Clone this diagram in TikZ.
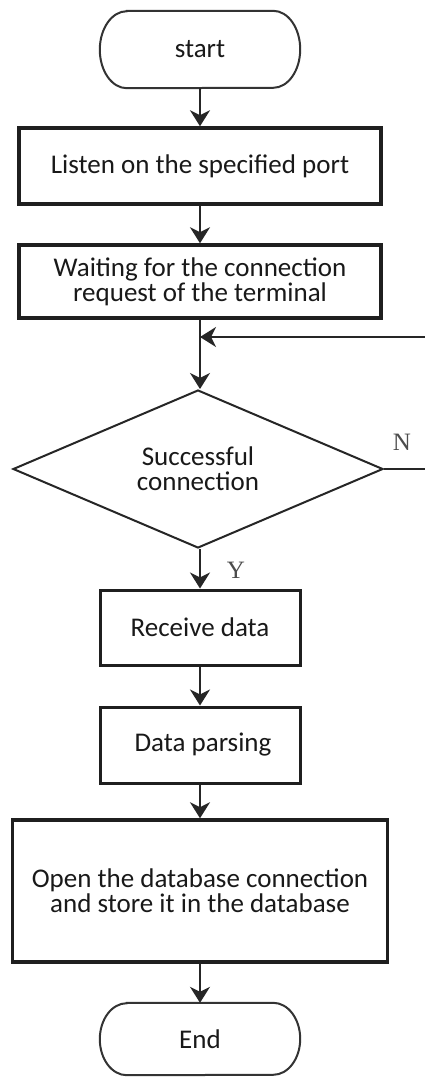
\documentclass[tikz,border=0pt]{standalone}
\usepackage{fontspec}
\setmainfont{Carlito}
\newfontfamily\ynfont{Liberation Serif}
\usetikzlibrary{arrows.meta,shapes.geometric}

\begin{document}
\begin{tikzpicture}[x=1pt,y=-1pt,
  every node/.style={font=\fontsize{27}{25}\selectfont, align=center, inner sep=0pt, text=black!90},
  proc/.style={draw=black!88, line width=3.5pt, minimum width=#1},
  thinproc/.style={draw=black!88, line width=3pt, minimum width=#1},
  term/.style={minimum width=200pt},
  termline/.style={draw=black!80, line width=2pt},
  decision/.style={draw=black!85, line width=2pt, shape=diamond, aspect=2.34,
                   minimum width=370pt, minimum height=158pt},
  flow/.style={draw=black!85, line width=2pt,
               -{Stealth[length=16pt,width=20pt,inset=5pt]}},
  yn/.style={font=\ynfont\fontsize{25}{25}\selectfont, text=black!70}]

\useasboundingbox[fill=white] (0,0) rectangle (425,1077);

% start terminal
\node[term, minimum height=77pt] (start) at (200,49.5) {start};
\draw[termline] ([xshift=27pt]start.north west) -- ([xshift=-27pt]start.north east)
  arc[start angle=90,end angle=-90,x radius=27pt,y radius=38.5pt]
  -- ([xshift=27pt]start.south west)
  arc[start angle=270,end angle=90,x radius=27pt,y radius=38.5pt] -- cycle;

% process steps
\node[proc=362pt, minimum height=76pt] (listen) at (200,166) {Listen on the specified port};
\node[proc=362pt, minimum height=73pt] (wait) at (200,281.5)
  {Waiting for the connection\\request of the terminal};
\coordinate (join) at (200,337);
\node[decision] (ok) at (198,469) {Successful\\connection};
\node[thinproc=200pt, minimum height=75pt] (recv) at (200,627.5) {Receive data};
\node[thinproc=200pt, minimum height=76pt] (parse) at (200,745) {\hspace*{6pt}Data parsing};
\node[proc=375pt, minimum height=142pt] (store) at (200,891)
  {Open the database connection\\and store it in the database};

% end terminal
\node[term, minimum height=72pt] (stop) at (200,1039) {End};
\draw[termline] ([xshift=27pt]stop.north west) -- ([xshift=-27pt]stop.north east)
  arc[start angle=90,end angle=-90,x radius=27pt,y radius=36pt]
  -- ([xshift=27pt]stop.south west)
  arc[start angle=270,end angle=90,x radius=27pt,y radius=36pt] -- cycle;

% connectors, all on the common axis through (join)
\draw[flow] (start.south) -- (listen.north);
\draw[flow] (listen.south) -- (wait.north);
\draw[flow] (wait.south) -- (join) -- (ok.north -| join);
\draw[flow] (ok.south -| join) -- (recv.north);
\draw[flow] (recv.south) -- (parse.north);
\draw[flow] (parse.south) -- (store.north);
\draw[flow] (store.south) -- (stop.north);
\draw[flow] (ok.east) -- (430,469) |- (join);

% branch labels
\node[yn] (no) at (402,442) {N};
\node[yn] (yes) at (236,570) {Y};
\end{tikzpicture}
\end{document}
